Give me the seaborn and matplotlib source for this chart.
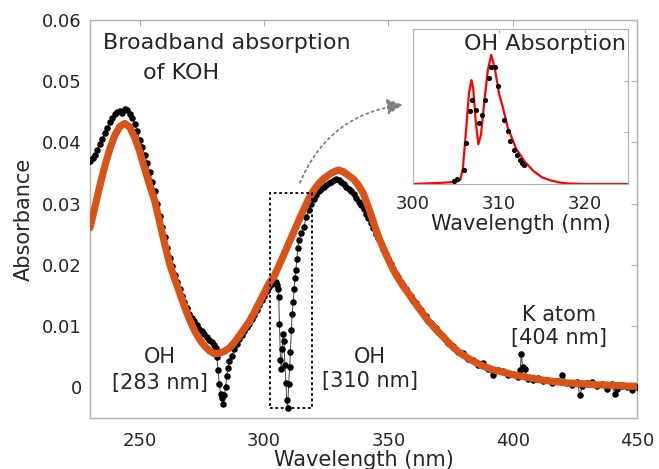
import matplotlib
matplotlib.use('Agg')
import matplotlib.pyplot as plt
import seaborn as sns
import pandas as pd
from matplotlib.patches import Rectangle, FancyArrowPatch

# measured broadband spectrum (black dots)
meas_nm = [230, 231, 232, 233, 234, 235, 236, 237, 238, 239, 240, 241, 242, 243, 244, 245,
           246, 247, 248, 249, 250, 251, 252, 253, 254, 255, 256, 257, 258, 259, 260, 261,
           262, 263, 264, 265, 266, 267, 268, 269, 270, 271, 272, 273, 274, 275, 276, 277,
           278, 279, 280, 280.5, 281, 281.5, 282, 282.5, 283, 283.5, 284, 284.5, 285, 285.5,
           286, 287, 288, 289, 290, 291, 292, 293, 294, 295, 296, 297, 298, 299, 300, 301,
           302, 303, 304,
           304.8, 305.1, 305.5, 305.9, 306.2, 306.6, 306.9, 307.3, 307.7, 308.0, 308.4, 308.8,
           309.1, 309.5, 309.9, 310.3, 310.6, 311.0, 311.3, 311.7, 312.1, 312.4, 312.8, 313.2,
           313.6, 314.0,
           315, 316, 317, 318, 319, 320, 321, 322, 323, 324, 325, 326, 327, 328, 329, 330,
           331, 332, 333, 334, 335, 336, 337, 338, 339, 340, 341, 342, 343, 344, 345, 346,
           347, 348, 349, 350, 351, 352, 353, 354, 355, 356, 357, 358, 359, 360, 361, 362,
           363, 364, 365, 366, 367, 368, 369, 370,
           372, 374, 376, 378, 380, 382, 384, 386, 388, 390, 392, 394, 396, 398, 400, 402,
           403, 403.5, 404, 405, 406, 408, 410, 412, 414, 416, 418, 420, 422, 424, 426, 427,
           428, 430, 432, 434, 436, 438, 440, 441, 442, 444, 446, 448, 450]
meas_abs = [0.0370, 0.0374, 0.0379, 0.0388, 0.0397, 0.0406, 0.0415, 0.0424, 0.0433, 0.0440,
            0.0446, 0.0449, 0.0451, 0.0448, 0.0455, 0.0453, 0.0446, 0.0440, 0.0430, 0.0418,
            0.0404, 0.0392, 0.0380, 0.0366, 0.0352, 0.0336, 0.0320, 0.0300, 0.0280, 0.0262,
            0.0245, 0.0228, 0.0212, 0.0198, 0.0184, 0.0172, 0.0160, 0.0150, 0.0140, 0.0130,
            0.0120, 0.0114, 0.0108, 0.0102, 0.0096, 0.0092, 0.0087, 0.0083, 0.0078, 0.0074,
            0.0070, 0.0064, 0.0050, 0.0028, 0.0005, -0.0010, -0.0018, -0.0027, -0.0012, 0.0000,
            0.0018, 0.0032, 0.0043, 0.0052, 0.0062, 0.0071, 0.0079, 0.0086, 0.0092, 0.0098,
            0.0104, 0.0111, 0.0118, 0.0126, 0.0134, 0.0142, 0.0150, 0.0157, 0.0164, 0.0169,
            0.0172,
            0.0172, 0.0168, 0.0160, 0.0148, 0.0104, 0.0045, 0.0030, 0.0063, 0.0088, 0.0075,
            0.0036, 0.0008, -0.0020, -0.0034, 0.0006, 0.0033, 0.0058, 0.0093, 0.0120, 0.0140,
            0.0160, 0.0178, 0.0192, 0.0210, 0.0228, 0.0240,
            0.0252, 0.0262, 0.0278, 0.0290, 0.0300, 0.0308, 0.0314, 0.0320, 0.0324, 0.0327,
            0.0330, 0.0334, 0.0336, 0.0339, 0.0340, 0.0338, 0.0336, 0.0333, 0.0328, 0.0324,
            0.0320, 0.0316, 0.0310, 0.0303, 0.0298, 0.0292, 0.0283, 0.0276, 0.0268, 0.0260,
            0.0251, 0.0244, 0.0236, 0.0226, 0.0218, 0.0210, 0.0201, 0.0194, 0.0186, 0.0180,
            0.0172, 0.0168, 0.0160, 0.0154, 0.0149, 0.0142, 0.0138, 0.0131, 0.0126, 0.0120,
            0.0116, 0.0109, 0.0106, 0.0100, 0.0097, 0.0090,
            0.0084, 0.0073, 0.0068, 0.0058, 0.0056, 0.0047, 0.0045, 0.0036, 0.0040, 0.0030,
            0.0020, 0.0029, 0.0026, 0.0020, 0.0022, 0.0017, 0.0028, 0.0055, 0.0034, 0.0030,
            0.0014, 0.0012, 0.0016, 0.0010, 0.0012, 0.0008, 0.0010, 0.0020, 0.0008, 0.0004,
            0.0009, -0.0013, 0.0002, 0.0007, 0.0009, 0.0003, 0.0006, -0.0003, 0.0005, -0.0010,
            -0.0002, 0.0003, 0.0001, -0.0005, 0.0000]

# broadband fit (orange)
fit_nm = list(range(230, 452, 2))
fit_abs = [0.0261, 0.0295, 0.0330, 0.0362, 0.0390, 0.0412, 0.0426, 0.0431, 0.0425, 0.0408,
           0.0385, 0.0357, 0.0330, 0.0305, 0.0270, 0.0235, 0.0202, 0.0178, 0.0155, 0.0132,
           0.0111, 0.0093, 0.0079, 0.0068, 0.0060, 0.0055, 0.0056, 0.0059, 0.0064, 0.0073,
           0.0084, 0.0096, 0.0107, 0.0122, 0.0138, 0.0154, 0.0170, 0.0181, 0.0199, 0.0217,
           0.0236, 0.0254, 0.0273, 0.0291, 0.0308, 0.0322, 0.0333, 0.0341, 0.0347, 0.0352,
           0.0355, 0.0352, 0.0346, 0.0340, 0.0330, 0.0316, 0.0294, 0.0270, 0.0246, 0.0227,
           0.0209, 0.0192, 0.0178, 0.0165, 0.0154, 0.0142, 0.0131, 0.0120, 0.0109, 0.0100,
           0.0091, 0.0083, 0.0074, 0.0066, 0.0059, 0.0053, 0.0048, 0.0043, 0.0039, 0.0035,
           0.0032, 0.0029, 0.0027, 0.0025, 0.0023, 0.0021, 0.0019, 0.0018, 0.0016, 0.0015,
           0.0013, 0.0012, 0.0011, 0.0010, 0.0009, 0.0008, 0.0007, 0.0007, 0.0006, 0.0006,
           0.0005, 0.0005, 0.0004, 0.0004, 0.0004, 0.0003, 0.0003, 0.0003, 0.0002, 0.0002,
           0.0002]

# OH band inset: measured points and model
oh_nm = [304.8, 305.1, 305.9, 306.2, 306.6, 306.9, 307.3, 307.7, 308.0, 308.4, 308.8,
         309.1, 309.5, 309.9, 310.6, 311.0, 311.3, 311.7, 312.1, 312.4, 312.7, 312.9]
oh_abs = [0.0006, 0.0009, 0.0027, 0.0079, 0.0141, 0.0163, 0.0144, 0.0119, 0.0133, 0.0163,
          0.0205, 0.0227, 0.0227, 0.0190, 0.0123, 0.0102, 0.0083, 0.0065, 0.0056, 0.0046,
          0.0040, 0.0036]
oh_fit_nm = [300, 303, 305, 305.5, 305.8, 306.0, 306.2, 306.5, 306.8, 307.0, 307.3, 307.6,
             307.9, 308.3, 308.7, 309.1, 309.5, 310.0, 310.5, 311.0, 312.0, 313.0, 314.0,
             315.0, 316.0, 317.0, 318.0, 320.0, 325.0]
oh_fit_abs = [0.0, 0.0002, 0.0004, 0.0008, 0.0030, 0.0070, 0.0110, 0.0175, 0.0201, 0.0185,
              0.0120, 0.0077, 0.0095, 0.0160, 0.0220, 0.0250, 0.0225, 0.0175, 0.0145, 0.0110,
              0.0068, 0.0043, 0.0025, 0.0013, 0.0007, 0.0003, 0.0001, 0.0, 0.0]

sns.set_style('white')
plt.rcParams['font.family'] = ['DejaVu Sans']
tick_col = '#262626'
spine_col = '#b0b0b0'
orange = '#D95319'

df_meas = pd.DataFrame({'nm': meas_nm, 'A': meas_abs})
df_fit = pd.DataFrame({'nm': fit_nm, 'A': fit_abs})

fig = plt.figure(figsize=(6.59, 4.69), dpi=100)
ax = fig.add_axes([0.1366, 0.1087, 0.830, 0.8486])

ax.plot(df_meas['nm'], df_meas['A'], color='#444444', lw=0.7, zorder=2)
sns.scatterplot(data=df_meas, x='nm', y='A', color='black', s=22, linewidth=0,
                ax=ax, zorder=3)
sns.lineplot(data=df_fit, x='nm', y='A', color=orange, lw=5.2, sort=False,
             estimator=None, ax=ax, zorder=4, solid_capstyle='round')

ax.set_xlim(230, 450)
ax.set_ylim(-0.005, 0.06)
ax.set_xticks([250, 300, 350, 400, 450])
ax.set_yticks([0, 0.01, 0.02, 0.03, 0.04, 0.05, 0.06])
ax.set_yticklabels(['0', '0.01', '0.02', '0.03', '0.04', '0.05', '0.06'])
ax.tick_params(direction='in', top=True, right=True, length=4, width=0.8,
               color=spine_col, labelcolor=tick_col, labelsize=13)
ax.tick_params(axis='x', pad=10)
ax.tick_params(axis='y', pad=6)
for s in ax.spines.values():
    s.set_color(spine_col)
    s.set_linewidth(1.0)
ax.set_xlabel('Wavelength (nm)', fontsize=15, color=tick_col, labelpad=0)
ax.set_ylabel('Absorbance', fontsize=15, color=tick_col, labelpad=6)

# annotations
ax.text(285.2, 0.0563, 'Broadband absorption', fontsize=16, ha='center', va='center')
ax.text(266.8, 0.0514, 'of KOH', fontsize=16, ha='center', va='center')
ax.text(258, 0.0049, 'OH', fontsize=15, ha='center', va='center')
ax.text(258, 0.0008, '[283 nm]', fontsize=15, ha='center', va='center')
ax.text(342.7, 0.0049, 'OH', fontsize=15, ha='center', va='center')
ax.text(342.7, 0.0011, '[310 nm]', fontsize=15, ha='center', va='center')
ax.text(418.8, 0.0119, 'K atom', fontsize=15, ha='center', va='center')
ax.text(418.8, 0.0080, '[404 nm]', fontsize=15, ha='center', va='center')

ax.add_patch(Rectangle((302.4, -0.0034), 16.7, 0.0352, fill=False, ec='black',
                       lw=1.3, ls=(0, (1.5, 1.5)), zorder=5))
ax.add_patch(FancyArrowPatch((314, 0.033), (357, 0.0462),
                             connectionstyle='arc3,rad=-0.3', arrowstyle='-|>',
                             mutation_scale=24, color='#808080', lw=1.3,
                             ls=(0, (1.2, 2.0)), zorder=5))

# inset
axi = fig.add_axes([0.6267, 0.6077, 0.3263, 0.3305])
df_oh = pd.DataFrame({'nm': oh_nm, 'A': oh_abs})
df_ohfit = pd.DataFrame({'nm': oh_fit_nm, 'A': oh_fit_abs})
sns.lineplot(data=df_ohfit, x='nm', y='A', color='red', lw=1.6, sort=False,
             estimator=None, ax=axi, zorder=2)
sns.scatterplot(data=df_oh, x='nm', y='A', color='black', s=14, linewidth=0,
                ax=axi, zorder=3)
axi.set_xlim(300, 325)
axi.set_ylim(0, 0.03)
axi.set_xticks([300, 310, 320])
axi.set_yticks([0, 0.01, 0.02, 0.03])
axi.set_yticklabels([])
axi.tick_params(direction='in', top=True, right=True, length=3, width=0.8,
                color=spine_col, labelcolor=tick_col, labelsize=13, pad=8)
for s in axi.spines.values():
    s.set_color(spine_col)
axi.set_xlabel('Wavelength (nm)', fontsize=15, color=tick_col, labelpad=1)
axi.set_ylabel('')
axi.text(0.99, 0.97, 'OH Absorption', transform=axi.transAxes, fontsize=16,
         ha='right', va='top')

fig.savefig('out.png', dpi=100)
plt.close(fig)
